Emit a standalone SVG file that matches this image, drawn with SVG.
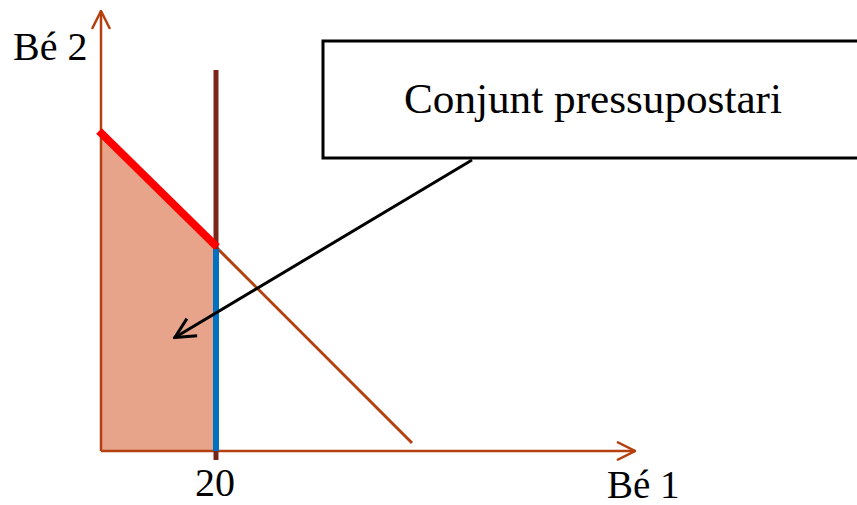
<svg xmlns="http://www.w3.org/2000/svg" width="857" height="505" viewBox="0 0 857 505">
<style>
text{font-family:'Liberation Serif','DejaVu Serif',serif;fill:#000}
.axis{stroke:#B5400F;stroke-width:2.5;fill:none}
</style>
<defs>
<marker id="open" viewBox="0 0 20 20" refX="19" refY="10" markerWidth="20" markerHeight="20" markerUnits="userSpaceOnUse" orient="auto">
<path d="M1,1 L19,10 L1,19" fill="none" stroke="#B5400F" stroke-width="2.5"/>
</marker>
<marker id="blk" viewBox="0 0 24 24" refX="23" refY="12" markerWidth="24" markerHeight="24" markerUnits="userSpaceOnUse" orient="auto">
<path d="M2,2 L22,12 L2,22" fill="none" stroke="#000" stroke-width="3"/>
</marker>
</defs>
<rect width="857" height="505" fill="#fff"/>
<g id="region">
<polygon points="101,131 216,247 216,451 101,451" fill="#E8A48A"/>
</g>
<g id="connectors">
<line class="axis" x1="101" y1="451" x2="101" y2="11" marker-end="url(#open)"/>
<line class="axis" x1="101" y1="451" x2="635" y2="451" marker-end="url(#open)"/>
<line x1="216" y1="247" x2="412" y2="443" stroke="#B5400F" stroke-width="3"/>
<line x1="216" y1="70" x2="216" y2="460" stroke="#7B2418" stroke-width="5"/>
<line x1="216" y1="249" x2="216" y2="451" stroke="#0070C0" stroke-width="6"/>
<line x1="99" y1="131" x2="217" y2="247" stroke="#FF0000" stroke-width="8"/>
<line x1="472" y1="160" x2="174" y2="338" stroke="#000" stroke-width="3" marker-end="url(#blk)"/>
</g>
<g id="callout">
<rect x="323" y="41" width="560" height="117" fill="#fff" stroke="#000" stroke-width="3"/>
<text x="404" y="113" font-family="Liberation Serif, serif" font-size="43" textLength="378" lengthAdjust="spacingAndGlyphs">Conjunt pressupostari</text>
</g>
<g id="labels">
<text x="13" y="60" font-family="Liberation Serif, serif" font-size="40">Bé 2</text>
<text x="607" y="498" font-family="Liberation Serif, serif" font-size="39">Bé 1</text>
<text x="215" y="496" font-family="Liberation Serif, serif" font-size="40" text-anchor="middle">20</text>
</g>
</svg>
